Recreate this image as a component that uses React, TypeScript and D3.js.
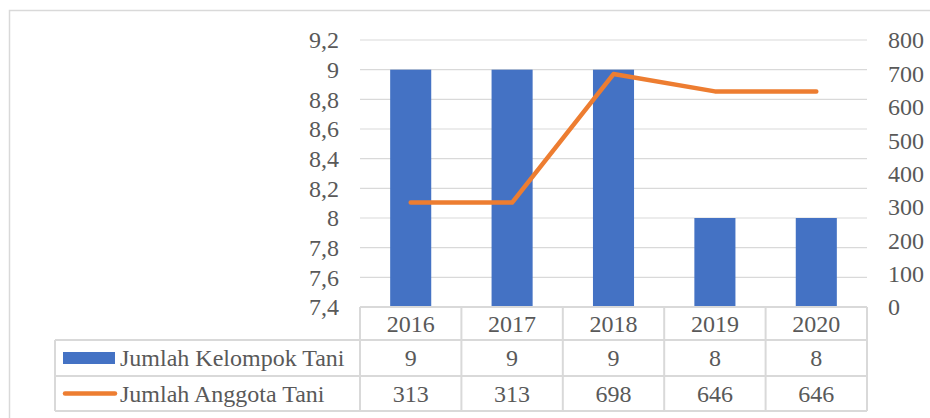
import React from "react";
import * as d3 from "d3";

const categories = ["2016", "2017", "2018", "2019", "2020"];
const kelompokValues = [9, 9, 9, 8, 8];
const anggotaValues = [313, 313, 698, 646, 646];
const leftTicks = [7.4, 7.6, 7.8, 8, 8.2, 8.4, 8.6, 8.8, 9, 9.2];
const rightTicks = [0, 100, 200, 300, 400, 500, 600, 700, 800];
const seriesNames = ["Jumlah Kelompok Tani", "Jumlah Anggota Tani"];

const W = 930;
const H = 418;
const plotL = 360;
const plotR = 867;
const plotT = 40;
const plotB = 307;
const rowH = [33, 36, 35];
const tableLeft = 55;
const font = "'Liberation Serif', 'Times New Roman', serif";
const textColor = "#595959";
const gridColor = "#D9D9D9";
const blue = "#4472C4";
const orange = "#ED7D31";

const fmt = (v: number) => String(v).replace(".", ",");

export default function App() {
  const x = d3.scaleBand<string>().domain(categories).range([plotL, plotR]).paddingInner(0).paddingOuter(0);
  const yL = d3.scaleLinear().domain([7.4, 9.2]).range([plotB, plotT]);
  const yR = d3.scaleLinear().domain([0, 800]).range([plotB, plotT]);
  const bw = x.bandwidth();
  const barW = bw * 0.405;
  const cx = (c: string) => (x(c) as number) + bw / 2;

  const line = d3
    .line<number>()
    .x((_, i) => cx(categories[i]))
    .y((d) => yR(d));

  const r0 = plotB;
  const r1 = r0 + rowH[0];
  const r2 = r1 + rowH[1];
  const r3 = r2 + rowH[2];

  return (
    <svg
      width={W}
      height={H}
      style={{ position: "absolute", left: 0, top: 0, background: "#fff" }}
      fontFamily={font}
    >
      <rect x={9.5} y={10.5} width={W + 10} height={H + 10} fill="#fff" stroke={gridColor} strokeWidth={1.5} />

      {leftTicks.map((t) => (
        <line key={"g" + t} x1={plotL} x2={plotR} y1={yL(t)} y2={yL(t)} stroke={gridColor} strokeWidth={1.2} />
      ))}

      {categories.map((c, i) => (
        <rect
          key={"b" + c}
          x={cx(c) - barW / 2}
          y={yL(kelompokValues[i])}
          width={barW}
          height={plotB - yL(kelompokValues[i])}
          fill={blue}
        />
      ))}

      <path d={line(anggotaValues) || ""} fill="none" stroke={orange} strokeWidth={4.5} strokeLinejoin="round" strokeLinecap="round" />

      {leftTicks.map((t) => (
        <text key={"l" + t} x={339} y={yL(t)} dy="0.35em" textAnchor="end" fontSize={24} fill={textColor}>
          {fmt(t)}
        </text>
      ))}
      {rightTicks.map((t) => (
        <text key={"r" + t} x={888} y={yR(t)} dy="0.35em" textAnchor="start" fontSize={24} fill={textColor}>
          {t}
        </text>
      ))}

      {/* data table */}
      <g stroke={gridColor} strokeWidth={2} fill="none">
        <line x1={plotL} x2={plotR} y1={r0} y2={r0} />
        <line x1={tableLeft} x2={plotR} y1={r1} y2={r1} />
        <line x1={tableLeft} x2={plotR} y1={r2} y2={r2} />
        <line x1={tableLeft} x2={plotR} y1={r3} y2={r3} />
        <line x1={tableLeft} x2={tableLeft} y1={r1} y2={r3} />
        {categories.map((c) => (
          <line key={"v" + c} x1={x(c) as number} x2={x(c) as number} y1={r0} y2={r3} />
        ))}
        <line x1={plotR} x2={plotR} y1={r0} y2={r3} />
      </g>

      {categories.map((c, i) => (
        <g key={"t" + c} fontSize={24} fill={textColor} textAnchor="middle">
          <text x={cx(c)} y={(r0 + r1) / 2} dy="0.35em">{c}</text>
          <text x={cx(c)} y={(r1 + r2) / 2} dy="0.35em">{kelompokValues[i]}</text>
          <text x={cx(c)} y={(r2 + r3) / 2} dy="0.35em">{anggotaValues[i]}</text>
        </g>
      ))}

      <rect x={63} y={352} width={52} height={12} fill={blue} />
      <line x1={65} x2={115} y1={(r2 + r3) / 2} y2={(r2 + r3) / 2} stroke={orange} strokeWidth={4.5} strokeLinecap="round" />
      <text x={120} y={(r1 + r2) / 2} dy="0.35em" fontSize={24} fill={textColor}>{seriesNames[0]}</text>
      <text x={120} y={(r2 + r3) / 2} dy="0.35em" fontSize={24} fill={textColor}>{seriesNames[1]}</text>
    </svg>
  );
}
